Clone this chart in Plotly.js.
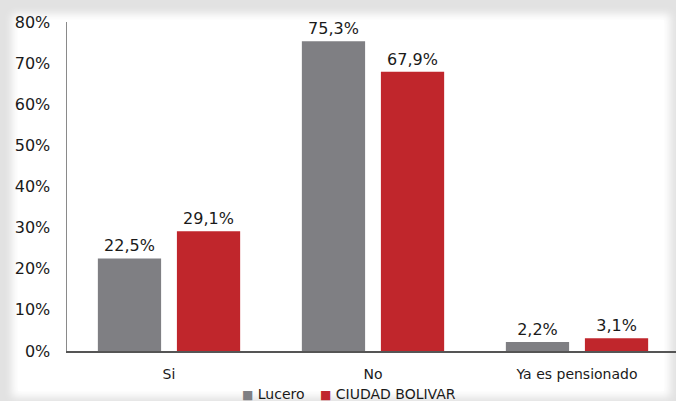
<!DOCTYPE html>
<html>
<head>
<meta charset="utf-8">
<script src="https://cdn.plot.ly/plotly-3.0.1.min.js"></script>
<style>
  html, body { margin: 0; padding: 0; }
  #wrap { position: relative; width: 676px; height: 401px; background: #e2e2e2; overflow: hidden; }
  #panel { position: absolute; left: 18px; top: 20px; right: 12px; bottom: 10px; background: #fff; box-shadow: 0 0 8px 6px #fff; }
  #chart { position: absolute; left: 0; top: 0; width: 679px; height: 401px; }
</style>
</head>
<body>
<div id="wrap"><div id="panel"></div><div id="chart"></div></div>
<script>
var categories = ["Si", "No", "Ya es pensionado"];
var lucero = [22.5, 75.3, 2.2];
var ciudadBolivar = [29.1, 67.9, 3.1];
var seriesNames = ["Lucero", "CIUDAD BOLIVAR"];
var seriesColors = ["#7f7f83", "#c0262c"];
var yTickVals = [0, 10, 20, 30, 40, 50, 60, 70, 80];
var yTickText = ["0%", "10%", "20%", "30%", "40%", "50%", "60%", "70%", "80%"];

var font = "DejaVu Sans, Verdana, sans-serif";
var traces = [
  { type: "bar", name: seriesNames[0], x: categories, y: lucero,
    marker: { color: seriesColors[0] },
    texttemplate: "%{y:.1f}%", textposition: "outside", cliponaxis: false,
    textfont: { size: 16, color: "#1a1a1a", family: font } },
  { type: "bar", name: seriesNames[1], x: categories, y: ciudadBolivar,
    marker: { color: seriesColors[1] },
    texttemplate: "%{y:.1f}%", textposition: "outside", cliponaxis: false,
    textfont: { size: 16, color: "#1a1a1a", family: font } }
];
var plotW = 679 - 67;
function legendItem(i, xpx) {
  return { xref: "paper", yref: "paper", x: (xpx - 67) / plotW, y: -0.13, xanchor: "left", yanchor: "middle",
    showarrow: false, font: { size: 14, family: font, color: "#1a1a1a" },
    text: "<span style='color:" + seriesColors[i] + ";font-size:12px'>■</span> " + seriesNames[i] };
}
var layout = {
  width: 679, height: 401,
  margin: { l: 67, r: 0, t: 22, b: 50 },
  paper_bgcolor: "rgba(0,0,0,0)",
  plot_bgcolor: "rgba(0,0,0,0)",
  separators: ",.",
  font: { family: font, color: "#1a1a1a" },
  bargap: 0.225,
  bargroupgap: 0.2,
  showlegend: false,
  annotations: [legendItem(0, 240), legendItem(1, 318)],
  xaxis: { showline: true, linecolor: "#555", linewidth: 1.5, ticks: "", showgrid: false,
           ticklabelstandoff: 10,
           tickfont: { size: 14, family: font, color: "#1a1a1a" }, fixedrange: true },
  yaxis: { range: [0, 80], tickmode: "array", tickvals: yTickVals, ticktext: yTickText,
           showgrid: false, zeroline: false,
           showline: true, linecolor: "#8a8a8a", linewidth: 1.5, ticks: "", ticklabelstandoff: 12,
           tickfont: { size: 16, family: font, color: "#1a1a1a" } }
};
Plotly.newPlot("chart", traces, layout, { staticPlot: true, displayModeBar: false });
</script>
</body>
</html>
